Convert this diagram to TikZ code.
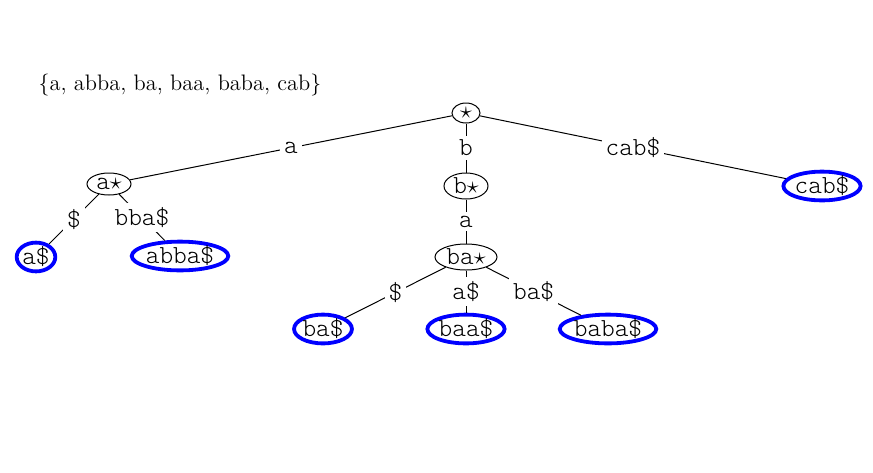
\documentclass[tikz,border=0pt]{standalone}
\usepackage{fontspec}
\setmonofont{Latin Modern Mono Light}
\usetikzlibrary{shapes.geometric}
\begin{document}
\begin{tikzpicture}[x=0.5pt,y=-0.5pt,
  lab/.style={font=\fontsize{13}{15}\selectfont\ttfamily, fill=white, inner sep=2pt},
  inner/.style={draw, ellipse, line width=0.5pt, inner sep=0pt, minimum height=12pt,
                font=\fontsize{13}{15}\selectfont\ttfamily},
  leaf/.style={draw=blue, ellipse, line width=1.9pt, inner sep=0pt, minimum height=14pt,
               font=\fontsize{13}{15}\selectfont\ttfamily},
  edge/.style={line width=0.5pt}]
\useasboundingbox (0,0) rectangle (873,472);

\node (set) at (180,85) {\fontsize{11.2}{13}\selectfont$\{$a, abba, ba, baa, baba, cab$\}$};

% internal nodes
\node[inner, minimum width=14pt, minimum height=10pt] (r) at (466,113) {$\star$};
\node[inner, minimum width=22pt, minimum height=11pt] (a) at (109,184) {a$\star$};
\node[inner, minimum width=22pt, minimum height=13pt] (b) at (466,186) {b$\star$};
\node[inner, minimum width=31pt, minimum height=13pt] (ba) at (466,257) {ba$\star$};

% leaves
\node[leaf] (cab) at (822,186) {cab\$};
\node[leaf] (aS) at (36,257) {a\$};
\node[leaf] (abba) at (180,256) {abba\$};
\node[leaf] (baS) at (323,329) {ba\$};
\node[leaf] (baa) at (466,329) {baa\$};
\node[leaf] (baba) at (608,329) {baba\$};

% labelled edges
\draw[edge] (r) -- node[lab] {a} (a);
\draw[edge] (r) -- node[lab] {b} (b);
\draw[edge] (r) -- node[lab] {cab\$} (cab);
\draw[edge] (a) -- node[lab] {\$} (aS);
\draw[edge] (a) -- node[lab] {bba\$} (abba);
\draw[edge] (b) -- node[lab] {a} (ba);
\draw[edge] (ba) -- node[lab] {\$} (baS);
\draw[edge] (ba) -- node[lab] {a\$} (baa);
\draw[edge] (ba) -- node[lab] {ba\$} (baba);
\end{tikzpicture}
\end{document}
